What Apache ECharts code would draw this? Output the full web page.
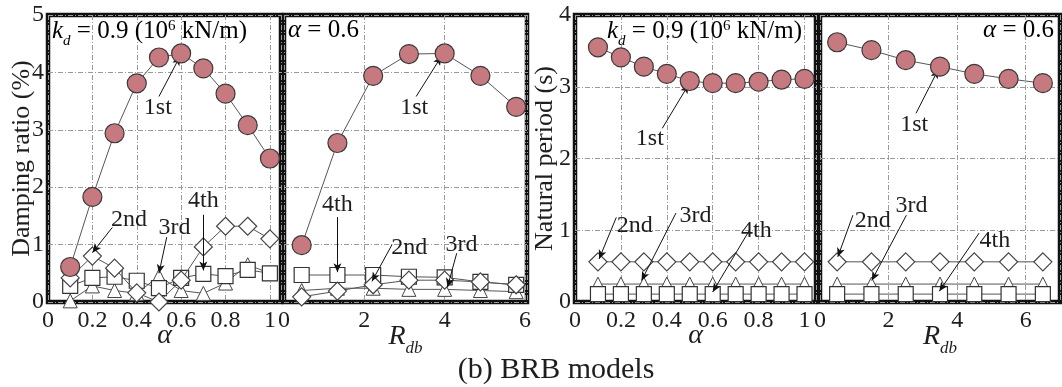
<!DOCTYPE html>
<html>
<head>
<meta charset="utf-8">
<script src="https://cdn.jsdelivr.net/npm/echarts@6/dist/echarts.min.js"></script>
<style>
  html, body { margin: 0; padding: 0; background: #fff; }
  #chart { width: 1062px; height: 387px; }
</style>
</head>
<body>
<div id="chart"></div>
<script>
// x values
const alpha = [0.1, 0.2, 0.3, 0.4, 0.5, 0.6, 0.7, 0.8, 0.9, 1.0]
const rdbDamp = [0.44, 1.33, 2.22, 3.11, 4.0, 4.89, 5.78]
const rdbPeriod = [0.5, 1.5, 2.5, 3.5, 4.5, 5.5, 6.5]

// damping ratio (%) vs alpha
const dampA1 = [0.61, 1.83, 2.94, 3.81, 4.26, 4.33, 4.07, 3.63, 3.08, 2.5]
const dampA2 = [0.42, 0.8, 0.59, 0.16, 0.0, 0.38, 0.96, 1.32, 1.32, 1.1]
const dampA3 = [0.02, 0.28, 0.2, 0.15, 0.45, 0.2, 0.15, 0.33, 0.65, 0.5]
const dampA4 = [0.28, 0.42, 0.44, 0.37, 0.24, 0.42, 0.49, 0.45, 0.56, 0.5]

// damping ratio (%) vs Rdb
const dampR1 = [0.99, 2.77, 3.94, 4.32, 4.33, 3.94, 3.4]
const dampR2 = [0.09, 0.19, 0.3, 0.38, 0.38, 0.35, 0.3]
const dampR3 = [0.2, 0.24, 0.24, 0.22, 0.22, 0.2, 0.18]
const dampR4 = [0.47, 0.47, 0.47, 0.44, 0.43, 0.35, 0.3]

// natural period (s) vs alpha
const perA1 = [3.55, 3.41, 3.28, 3.18, 3.08, 3.05, 3.05, 3.07, 3.1, 3.11]
const perA2 = [0.56, 0.56, 0.56, 0.56, 0.56, 0.56, 0.56, 0.56, 0.56, 0.56]
const perA3 = [0.25, 0.25, 0.25, 0.25, 0.25, 0.25, 0.25, 0.25, 0.25, 0.25]
const perA4 = [0.11, 0.11, 0.11, 0.11, 0.11, 0.11, 0.11, 0.11, 0.11, 0.11]

// natural period (s) vs Rdb
const perR1 = [3.62, 3.51, 3.37, 3.28, 3.18, 3.11, 3.05]
const perR2 = [0.56, 0.56, 0.56, 0.56, 0.56, 0.56, 0.56]
const perR3 = [0.25, 0.25, 0.25, 0.25, 0.25, 0.25, 0.25]
const perR4 = [0.11, 0.11, 0.11, 0.11, 0.11, 0.11, 0.11]

// mode labels with arrows (data coords: label centre, arrow start, arrow tip)
const notes = [
  [
    {t: '1st', at: [0.495, 3.38], from: [0.5, 3.58], to: [0.595, 4.28]},
    {t: '2nd', at: [0.365, 1.43], from: [0.29, 1.3], to: [0.2, 0.86]},
    {t: '3rd', at: [0.57, 1.29], from: [0.535, 1.13], to: [0.5, 0.5]},
    {t: '4th', at: [0.70, 1.76], from: [0.70, 1.52], to: [0.70, 0.55]}
  ],
  [
    {t: '1st', at: [3.24, 3.38], from: [3.29, 3.58], to: [3.92, 4.28]},
    {t: '4th', at: [1.33, 1.7], from: [1.33, 1.48], to: [1.33, 0.52]},
    {t: '2nd', at: [3.12, 0.94], from: [2.69, 1.0], to: [2.19, 0.36]},
    {t: '3rd', at: [4.42, 1.0], from: [4.3, 0.85], to: [4.07, 0.26]}
  ],
  [
    {t: '1st', at: [0.326, 2.27], from: [0.38, 2.42], to: [0.495, 3.03]},
    {t: '2nd', at: [0.26, 1.07], from: [0.18, 1.18], to: [0.105, 0.6]},
    {t: '3rd', at: [0.525, 1.2], from: [0.44, 1.24], to: [0.29, 0.3]},
    {t: '4th', at: [0.79, 0.99], from: [0.76, 1.0], to: [0.6, 0.14]}
  ],
  [
    {t: '1st', at: [2.75, 2.47], from: [2.8, 2.63], to: [3.45, 3.24]},
    {t: '2nd', at: [1.54, 1.14], from: [0.96, 1.21], to: [0.52, 0.63]},
    {t: '3rd', at: [2.67, 1.34], from: [2.52, 1.21], to: [1.51, 0.3]},
    {t: '4th', at: [5.1, 0.86], from: [4.64, 0.96], to: [3.48, 0.15]}
  ]
]

const FONT = 'Liberation Serif'
const INK = '#1e1e1e'
const PINK = '#c67a7f'

const chart = echarts.init(document.getElementById('chart'))

const pair = (xs, ys) => xs.map((x, i) => [x, ys[i]])

const grid = (left, width) => ({
  left, width, top: 15, height: 287,
  show: true, borderColor: '#111', borderWidth: 4.5, backgroundColor: 'transparent'
})

const splitLine = {show: true, lineStyle: {color: '#9a9a9a', width: 1, type: [5, 2, 1, 2]}}

const xAxis = (idx, max, interval, name, nameGap) => ({
  type: 'value', gridIndex: idx, min: 0, max, interval,
  axisLine: {show: false}, axisTick: {show: false},
  axisLabel: {color: INK, fontFamily: FONT, fontSize: 24, margin: 7, showMaxLabel: false},
  splitLine,
  name, nameLocation: 'middle', nameGap, nameMoveOverlap: false,
  nameTextStyle: {
    color: INK, fontFamily: FONT, fontSize: 28, fontStyle: 'italic',
    rich: {
      r: {fontFamily: FONT, fontSize: 28, fontStyle: 'italic', color: INK},
      s: {fontFamily: FONT, fontSize: 17, fontStyle: 'italic', color: INK, verticalAlign: 'bottom', lineHeight: 40}
    }
  }
})

const yAxis = (idx, max, showLabel, name, nameGap) => ({
  type: 'value', gridIndex: idx, min: 0, max, interval: 1,
  axisLine: {show: false}, axisTick: {show: false},
  axisLabel: {show: showLabel, color: INK, fontFamily: FONT, fontSize: 24, margin: 4},
  splitLine,
  name, nameLocation: 'middle', nameGap, nameMoveOverlap: false,
  nameTextStyle: {color: INK, fontFamily: FONT, fontSize: 26}
})

const lineStyle = {color: '#555', width: 1}

const modeSeries = (idx, xs, m1, m2, m3, m4) => {
  const n = notes[idx]
  return [
    {type: 'line', xAxisIndex: idx, yAxisIndex: idx, data: pair(xs, m3), symbol: 'triangle', symbolSize: 14,
      lineStyle, itemStyle: {color: '#fff', borderColor: '#444', borderWidth: 1}, z: 2},
    {type: 'line', xAxisIndex: idx, yAxisIndex: idx, data: pair(xs, m4), symbol: 'rect', symbolSize: 15,
      lineStyle, itemStyle: {color: '#fff', borderColor: '#333', borderWidth: 1.2}, z: 3},
    {type: 'line', xAxisIndex: idx, yAxisIndex: idx, data: pair(xs, m2), symbol: 'diamond', symbolSize: 18,
      lineStyle, itemStyle: {color: '#fff', borderColor: '#444', borderWidth: 1.2}, z: 4},
    {type: 'line', xAxisIndex: idx, yAxisIndex: idx, data: pair(xs, m1), symbol: 'circle', symbolSize: 19,
      lineStyle, itemStyle: {color: PINK, borderColor: '#3a3a3a', borderWidth: 1.2}, z: 5,
      markLine: {
        silent: true, animation: false,
        symbol: ['none', 'arrow'], symbolSize: [6, 9],
        label: {show: false},
        lineStyle: {color: '#111', width: 1, type: 'solid'},
        emphasis: {disabled: true},
        data: n.map(a => [{coord: a.from}, {coord: a.to}])
      },
      markPoint: {
        silent: true, animation: false,
        symbol: 'circle', symbolSize: 1,
        itemStyle: {color: 'rgba(0,0,0,0)'},
        label: {show: true, position: 'inside', formatter: '{b}', color: INK, fontFamily: FONT, fontSize: 24},
        data: n.map(a => ({name: a.t, coord: a.at}))
      }
    }
  ]
}

const kdRich = {
  n: {fontFamily: FONT, fontSize: 25, color: INK},
  i: {fontFamily: FONT, fontSize: 25, fontStyle: 'italic', color: INK},
  sub: {fontFamily: FONT, fontSize: 15, fontStyle: 'italic', color: INK, verticalAlign: 'bottom', lineHeight: 36},
  sup: {fontFamily: FONT, fontSize: 15, color: INK, verticalAlign: 'middle', padding: [0, 0, 10, 0]}
}
const kdText = '{i|k}{sub|d}{n| = 0.9 (10}{sup|6}{n| kN/m)}'
const aText = '{i|α}{n| = 0.6}'

const option = {
  animation: false,
  grid: [grid(48, 233), grid(284, 243), grid(575, 241), grid(820, 240)],
  xAxis: [
    xAxis(0, 1.05, 0.2, 'α', 20),
    xAxis(1, 6.05, 2, '{r|R}{s|db}', 15),
    xAxis(2, 1.05, 0.2, 'α', 20),
    xAxis(3, 7, 2, '{r|R}{s|db}', 15)
  ],
  yAxis: [
    yAxis(0, 5, true, 'Damping ratio (%)', 13),
    yAxis(1, 5, false, '', 0),
    yAxis(2, 4, true, 'Natural period (s)', 17),
    yAxis(3, 4, false, '', 0)
  ],
  series: [
    ...modeSeries(0, alpha, dampA1, dampA2, dampA3, dampA4),
    ...modeSeries(1, rdbDamp, dampR1, dampR2, dampR3, dampR4),
    ...modeSeries(2, alpha, perA1, perA2, perA3, perA4),
    ...modeSeries(3, rdbPeriod, perR1, perR2, perR3, perR4)
  ],
  graphic: [
    {type: 'text', x: 52, y: 31, z: 10, style: {text: kdText, rich: kdRich, textVerticalAlign: 'middle'}},
    {type: 'text', x: 288, y: 30, z: 10, style: {text: aText, rich: kdRich, textVerticalAlign: 'middle'}},
    {type: 'text', x: 607, y: 31, z: 10, style: {text: kdText, rich: kdRich, textVerticalAlign: 'middle'}},
    {type: 'text', x: 1054, y: 30, z: 10, style: {text: aText, rich: kdRich, textAlign: 'right', textVerticalAlign: 'middle'}},
    {type: 'text', x: 556, y: 370, z: 10,
      style: {text: '(b) BRB models', fill: INK, font: '30px "Liberation Serif"', textAlign: 'center', textVerticalAlign: 'middle'}}
  ]
}

chart.setOption(option)
</script>
</body>
</html>
